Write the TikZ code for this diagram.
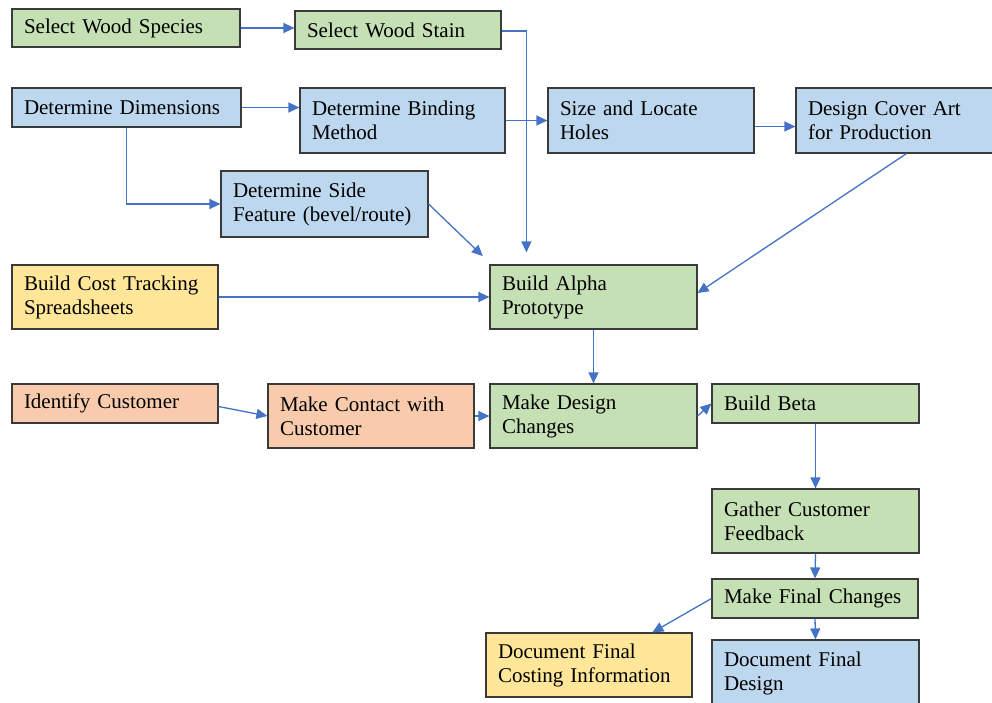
\documentclass[tikz,border=0pt]{standalone}
\usepackage{fontspec}
\setmainfont{Liberation Serif}
\usetikzlibrary{arrows.meta}
\definecolor{gfill}{HTML}{C5E0B4}
\definecolor{bfill}{HTML}{BDD7EE}
\definecolor{yfill}{HTML}{FFE699}
\definecolor{ofill}{HTML}{F8CBAD}
\definecolor{edge}{HTML}{3A3A3A}
\definecolor{arr}{HTML}{4472C4}
\tikzset{
  box/.style={draw=edge, line width=1.2pt, rectangle, align=left, inner xsep=12pt, inner ysep=0pt,
    font=\fontsize{21}{24}\selectfont},
  conn/.style={draw=arr, line width=1.3pt, -{Triangle[length=11pt,width=10pt]}}
}
\newcommand\bx[7]{%
  \pgfmathsetmacro\bw{#4-#2}\pgfmathsetmacro\bh{#5-#3}\pgfmathsetmacro\tw{#4-#2-24}%
  \node[box, fill=#6, minimum width=\bw pt, minimum height=\bh pt, text width=\tw pt] (#1)
    at ({(#2+#4)/2},{(#3+#5)/2}) {#7};}
\begin{document}
\begin{tikzpicture}[x=1pt,y=-1pt]
\useasboundingbox[fill=white] (0,0) rectangle (992,702);
\bx{species}{12}{9}{240}{47}{gfill}{Select Wood Species}
\bx{stain}{295}{11}{501}{49}{gfill}{Select Wood Stain}
\bx{dims}{12}{88}{241}{127}{bfill}{Determine Dimensions}
\bx{binding}{300}{88}{505}{153}{bfill}{Determine Binding\\Method}
\bx{holes}{548}{88}{754}{153}{bfill}{Size and Locate\\Holes}
\bx{cover}{796}{88}{1004}{153}{bfill}{Design Cover Art\\for Production}
\bx{side}{221}{171}{428}{237}{bfill}{Determine Side\\Feature (bevel/route)}
\bx{cost}{12}{265}{218}{329}{yfill}{Build Cost Tracking\\Spreadsheets}
\bx{alpha}{490}{265}{697}{329}{gfill}{Build Alpha\\Prototype}
\bx{identify}{12}{384}{218}{423}{ofill}{Identify Customer}
\bx{contact}{268}{384}{474}{448}{ofill}{Make Contact with\\Customer}
\bx{design}{490}{384}{697}{448}{gfill}{Make Design\\Changes}
\bx{beta}{712}{384}{919}{423}{gfill}{Build Beta}
\bx{gather}{712}{489}{919}{553}{gfill}{Gather Customer\\Feedback}
\bx{final}{712}{579}{918}{618}{gfill}{Make Final Changes}
\bx{costing}{486}{633}{692}{697}{yfill}{Document Final\\Costing Information}
\bx{docdesign}{712}{640}{919}{706}{bfill}{Document Final\\Design}

\draw[conn] (species.east) -- (species.east -| stain.west);
\draw[conn, shorten >=12pt] ([yshift=-1pt]stain.east) -| ([xshift=37pt]alpha.north west);
\draw[conn] (dims.east) -- (dims.east -| binding.west);
\draw[conn] ([xshift=115pt]dims.south west) |- (side.west);
\draw[conn, shorten >=12pt] (side.east) -- ([xshift=2pt]alpha.north west);
\draw[conn] (binding.east) -- (holes.west);
\draw[conn] ([yshift=-6pt]holes.east) -- ([yshift=-6pt]cover.west);
\draw[conn] ([xshift=111pt]cover.south west) -- ([yshift=4pt]alpha.east);
\draw[conn] (cost.east) -- (alpha.west);
\draw[conn] (alpha.south) -- (design.north);
\draw[conn] ([yshift=-3pt]identify.east) -- (contact.west);
\draw[conn] (contact.east) -- (design.west);
\draw[conn] (design.east) -- (beta.west);
\draw[conn] (beta.south) -- (gather.north);
\draw[conn] (gather.south) -- (final.north);
\draw[conn] (final.south) -- (docdesign.north);
\draw[conn] (final.west) -- ([xshift=167pt]costing.north west);
\end{tikzpicture}
\end{document}
